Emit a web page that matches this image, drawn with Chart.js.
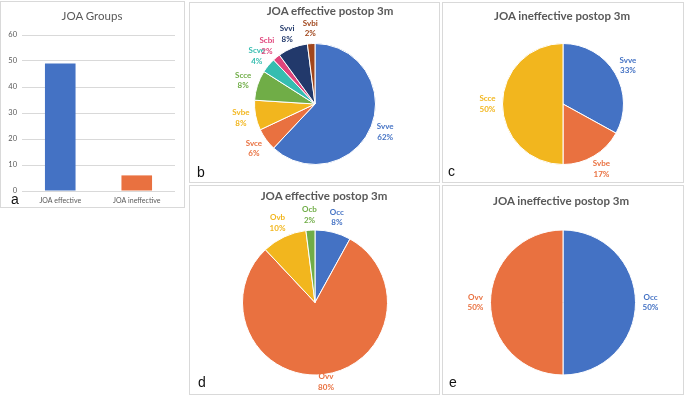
<!DOCTYPE html>
<html><head><meta charset="utf-8">
<script src="https://cdn.jsdelivr.net/npm/chart.js@4.4.1/dist/chart.umd.min.js"></script>
<style>
html,body{margin:0;padding:0;background:#fff;width:685px;height:397px;overflow:hidden;}
.panel{position:absolute;box-sizing:border-box;border:1px solid #d9d9d9;}
canvas{position:absolute;}
.title{position:absolute;transform:translateX(-50%);white-space:nowrap;font-family:Lato,'Open Sans',sans-serif;font-size:11.5px;line-height:1.2;color:#595959;font-weight:bold;}
.letter{position:absolute;font-family:'Liberation Sans',Arial,sans-serif;font-size:14px;line-height:14px;color:#111;}
</style></head><body>
<div class="panel" style="left:0px;top:1px;width:185px;height:207px"></div>
<div class="panel" style="left:189px;top:2px;width:251px;height:181px"></div>
<div class="panel" style="left:442px;top:2px;width:242px;height:181px"></div>
<div class="panel" style="left:189px;top:185px;width:251px;height:210px"></div>
<div class="panel" style="left:442px;top:185px;width:242px;height:210px"></div>

<canvas id="ca" width="183" height="206" style="left:1px;top:1px"></canvas>
<canvas id="cb" width="250" height="180" style="left:189px;top:2px"></canvas>
<canvas id="cc" width="241" height="180" style="left:442px;top:2px"></canvas>
<canvas id="cd" width="250" height="209" style="left:189px;top:185px"></canvas>
<canvas id="ce" width="241" height="209" style="left:442px;top:185px"></canvas>

<div class="title" style="left:92px;top:8.6px;font-weight:normal;">JOA Groups</div>
<div class="title" style="left:330px;top:3.6px;">JOA effective postop 3m</div>
<div class="title" style="left:562px;top:8.6px;">JOA ineffective postop 3m</div>
<div class="title" style="left:324px;top:189.3px;">JOA effective postop 3m</div>
<div class="title" style="left:561px;top:193.6px;">JOA ineffective postop 3m</div>

<div class="letter" style="left:11px;top:192px">a</div>
<div class="letter" style="left:197px;top:165px">b</div>
<div class="letter" style="left:448px;top:164px">c</div>
<div class="letter" style="left:198px;top:375px">d</div>
<div class="letter" style="left:449px;top:375px">e</div>

<script>
// ---- data ----
const barCategories = ['JOA effective', 'JOA ineffective'];
const barValues = [49, 6];
const barTickMin = 0, barTickMax = 60, barTickStep = 10;

const bLabels = ['Svve', 'Svce', 'Svbe', 'Scce', 'Scve', 'Scbi', 'Svvi', 'Svbi'];
const bValues = [62, 6, 8, 8, 4, 2, 8, 2];

const cLabels = ['Svve', 'Svbe', 'Scce'];
const cValues = [33, 17, 50];

const dLabels = ['Occ', 'Ovv', 'Ovb', 'Ocb'];
const dValues = [8, 80, 10, 2];

const eLabels = ['Occ', 'Ovv'];
const eValues = [50, 50];

// ---- styles ----
const BLUE = '#4472C4', ORANGE = '#E97140', GOLD = '#F2B61E', GREEN = '#70AD47',
      TEAL = '#36BDB0', PINK = '#E0457B', NAVY = '#22396B', BROWN = '#A0461C';
const bColors = [BLUE, ORANGE, GOLD, GREEN, TEAL, PINK, NAVY, BROWN];
const cColors = [BLUE, ORANGE, GOLD];
const dColors = [BLUE, ORANGE, GOLD, GREEN];
const eColors = [BLUE, ORANGE];

const pieLabelPlugin = {
  id: 'pieLabels',
  afterDatasetsDraw(chart, args, opts) {
    const ctx = chart.ctx;
    const meta = chart.getDatasetMeta(0);
    const ds = chart.data.datasets[0];
    ctx.save();
    ctx.font = 'bold 8px Lato, "Open Sans", sans-serif';
    ctx.textAlign = 'center';
    ctx.textBaseline = 'middle';
    meta.data.forEach((arc, i) => {
      const p = arc.getProps(['x', 'y', 'startAngle', 'endAngle', 'outerRadius'], true);
      const mid = (p.startAngle + p.endAngle) / 2;
      const R = p.outerRadius + opts.gap;
      const lx = p.x + Math.cos(mid) * R;
      let ly = p.y + Math.sin(mid) * R;
      ly = Math.min(Math.max(ly, 12), chart.height - 12);
      ctx.fillStyle = ds.backgroundColor[i];
      ctx.fillText(chart.data.labels[i], lx, ly - 5.25);
      ctx.fillText(ds.data[i] + '%', lx, ly + 5.25);
    });
    ctx.restore();
  }
};

function makePie(id, labels, values, colors, radius, pad, gap) {
  new Chart(document.getElementById(id), {
    type: 'pie',
    data: { labels: labels, datasets: [{ data: values, backgroundColor: colors, borderColor: '#ffffff', borderWidth: 1, radius: radius }] },
    options: {
      responsive: false, animation: false,
      layout: { padding: pad },
      plugins: { legend: { display: false }, tooltip: { enabled: false }, pieLabels: { gap: gap } }
    },
    plugins: [pieLabelPlugin]
  });
}

makePie('cb', bLabels, bValues, bColors, 60.5, { left: 65.5, right: 63.5, top: 41.5, bottom: 17.5 }, 15);
makePie('cc', cLabels, cValues, cColors, 60.5, { left: 60.5, right: 59.5, top: 41.5, bottom: 17.5 }, 15);
makePie('cd', dLabels, dValues, dColors, 72.5, { left: 53.5, right: 51.5, top: 45, bottom: 19 }, 15.5);
makePie('ce', eLabels, eValues, eColors, 72.5, { left: 48.5, right: 47.5, top: 45, bottom: 19 }, 15);

new Chart(document.getElementById('ca'), {
  type: 'bar',
  data: { labels: barCategories, datasets: [{ data: barValues, backgroundColor: [BLUE, ORANGE], categoryPercentage: 1, barPercentage: 0.4 }] },
  options: {
    responsive: false, animation: false,
    layout: { padding: { left: 0, right: 9, top: 34, bottom: 0 } },
    plugins: { legend: { display: false }, tooltip: { enabled: false } },
    scales: {
      x: {
        grid: { display: false, drawTicks: false }, border: { display: false },
        ticks: { padding: 6, color: '#595959', font: { family: 'Lato', size: 7 } },
        afterFit(s) { s.height = 16; }
      },
      y: {
        min: barTickMin, max: barTickMax,
        grid: { color: '#d9d9d9', drawTicks: false }, border: { display: false },
        ticks: { stepSize: barTickStep, padding: 5, color: '#595959', font: { family: 'Lato', size: 7.5 } },
        afterFit(s) { s.width = 21; }
      }
    }
  }
});
</script>
</body></html>
